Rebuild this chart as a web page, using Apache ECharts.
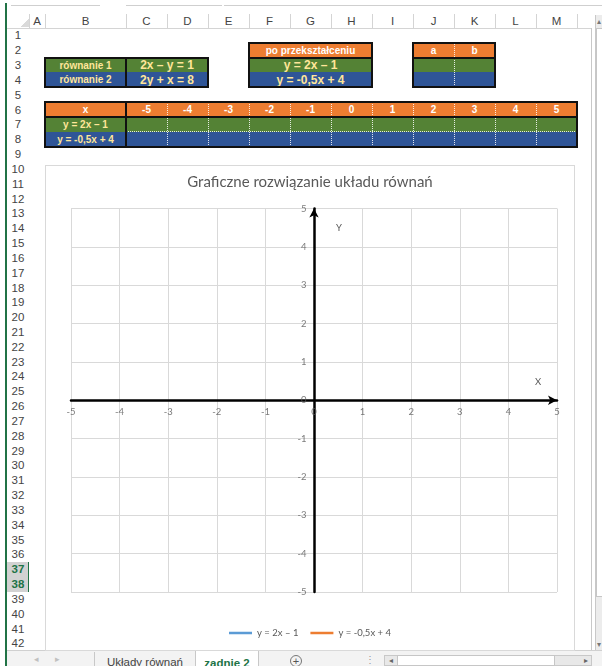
<!DOCTYPE html>
<html>
<head>
<meta charset="utf-8">
<script src="https://cdn.jsdelivr.net/npm/echarts@6/dist/echarts.min.js"></script>
<style>
  html, body { margin: 0; padding: 0; background: #fff; }
  #sheet { position: relative; width: 602px; height: 666px; overflow: hidden; background: #fff; font-family: "Liberation Sans", Arial, sans-serif; }
  #sheet div { box-sizing: border-box; }
  .c { position: absolute; display: flex; align-items: center; justify-content: center; white-space: nowrap; font-weight: bold; }
  .hdr { position: absolute; display: flex; align-items: center; justify-content: center; color: #444; font-size: 11.5px; font-family: "Liberation Sans", Arial, sans-serif; }
  #chart { position: absolute; left: 45px; top: 165px; width: 528px; height: 484px; border: 1px solid #d9d9d9; background: #fff; box-sizing: content-box !important; }
</style>
</head>
<body>
<div id="sheet"></div>
<script>
// ---- worksheet contents ----
const xValues = [-5, -4, -3, -2, -1, 0, 1, 2, 3, 4, 5];
// rows 7 and 8 of the table are still empty
const line1Values = [null, null, null, null, null, null, null, null, null, null, null];
const line2Values = [null, null, null, null, null, null, null, null, null, null, null];
const seriesNames = ['y = 2x – 1', 'y = -0,5x + 4'];
const equationLabels = ['równanie 1', 'równanie 2'];
const equations = ['2x – y = 1', '2y + x = 8'];
const transformedTitle = 'po przekształceniu';
const transformed = ['y = 2x – 1', 'y = -0,5x + 4'];
const coefHeaders = ['a', 'b'];
const axisRange = [-5, 5];
const xTicks = [-5, -4, -3, -2, -1, 0, 1, 2, 3, 4, 5];
const yTicks = [-5, -4, -3, -2, -1, 0, 1, 2, 3, 4, 5];
const chartTitle = 'Graficzne rozwiązanie układu równań';
const sheetTabs = ['Układy równań', 'zadnie 2'];

const ORANGE = '#ED7D31', GREEN = '#548235', BLUE = '#2F5597', PALE = '#FFE699';

// ---- grid geometry of the worksheet ----
const colNames = ['A','B','C','D','E','F','G','H','I','J','K','L','M'];
const colEdge = [29, 45, 126, 167, 208, 249, 290, 331, 372, 413, 454, 495, 536, 577];
const ROW_TOP = 28, ROW_H = 14.83;
const rowY = n => ROW_TOP + (n - 1) * ROW_H;
const cx = name => colEdge[colNames.indexOf(name)];
const cx2 = name => colEdge[colNames.indexOf(name) + 1];

const sheet = document.getElementById('sheet');
function rect(x, y, w, h, css) {
  const d = document.createElement('div');
  d.style.cssText = `position:absolute;left:${x}px;top:${y}px;width:${w}px;height:${h}px;${css || ''}`;
  sheet.appendChild(d);
  return d;
}
function cell(c0, c1, r0, r1, bg, text, color, size) {
  const x0 = cx(c0), x1 = cx2(c1), y0 = rowY(r0), y1 = rowY(r1 + 1);
  const d = rect(x0, y0, x1 - x0, y1 - y0, `background:${bg};color:${color || '#fff'};font-size:${size || 10}px;`);
  d.className = 'c';
  if (text !== undefined && text !== null) d.textContent = text;
  return d;
}
function hline(x0, x1, y, css) { return rect(x0, y - 1, x1 - x0, 2, css || 'background:#111;'); }
function vline(x, y0, y1, css) { return rect(x - 1, y0, 2, y1 - y0, css || 'background:#111;'); }
function frame(x0, x1, y0, y1) {
  rect(x0 - 1, y0 - 1, x1 - x0 + 2, y1 - y0 + 2, 'border:2px solid #111;');
}
function dotV(x, y0, y1) { rect(x - 0.5, y0, 1, y1 - y0, 'border-left:1px dotted rgba(255,255,255,0.85);'); }
function dotH(x0, x1, y) { rect(x0, y - 0.5, x1 - x0, 1, 'border-top:1px dotted rgba(255,255,255,0.85);'); }
function label(x, y, w, h, text, css) { const d = rect(x, y, w, h, css); d.className = 'hdr'; d.textContent = text; return d; }

// window chrome: formula-bar remnants and left accent
rect(11, 5, 89, 1, 'background:#cfcfcf;');
rect(126, 5, 96, 1, 'background:#cfcfcf;');
rect(224, 5, 378, 1, 'background:#cfcfcf;');
rect(5, 3, 1.5, 663, 'background:#217346;');

// column headers
rect(7, 28, 584, 1, 'background:#d4d4d4;');
rect(29, 14, 1, 14, 'background:#d4d4d4;');
rect(21, 19, 8, 8, 'background:linear-gradient(135deg, transparent 50%, #dadada 50%);');
colNames.forEach((n, i) => {
  label(colEdge[i], 14, colEdge[i + 1] - colEdge[i], 14, n);
  rect(colEdge[i + 1], 14, 1, 14, 'background:#d4d4d4;');
});
// row headers
for (let r = 1; r <= 42; r++) {
  const sel = (r === 37 || r === 38);
  const h = label(7, rowY(r), 22, ROW_H, r, sel ? 'background:#d2d2d2;' : '');
  if (sel) { h.style.color = '#217346'; h.style.fontWeight = 'bold'; }
}
rect(27.5, rowY(37), 1.5, ROW_H * 2, 'background:#217346;');
// right edge and vertical scroll bar
rect(591, 28, 1, 622, 'background:#c8c8c8;');
rect(595, 15, 7, 636, 'background:#ececec;border-left:1px solid #c8c8c8;');
rect(596, 28, 6, 569, 'background:#fff;border:1px solid #c6c6c6;border-right:none;');
label(596, 15, 6, 12, '▴', 'font-size:8px;color:#777;');
label(596, 639, 6, 11, '▾', 'font-size:8px;color:#777;');

// equations table B3:D4
cell('B', 'B', 3, 3, GREEN, equationLabels[0], PALE, 10);
cell('C', 'D', 3, 3, GREEN, equations[0], PALE, 12);
cell('B', 'B', 4, 4, BLUE, equationLabels[1], PALE, 10);
cell('C', 'D', 4, 4, BLUE, equations[1], PALE, 12);
vline(cx('C'), rowY(3), rowY(5));
frame(cx('B'), cx2('D'), rowY(3), rowY(5));

// transformed equations F2:H4
cell('F', 'H', 2, 2, ORANGE, transformedTitle, '#fff', 10);
cell('F', 'H', 3, 3, GREEN, transformed[0], PALE, 12);
cell('F', 'H', 4, 4, BLUE, transformed[1], PALE, 12);
frame(cx('F'), cx2('H'), rowY(2), rowY(3));
frame(cx('F'), cx2('H'), rowY(3), rowY(5));

// coefficients J2:K4
cell('J', 'J', 2, 2, ORANGE, coefHeaders[0], '#fff', 10);
cell('K', 'K', 2, 2, ORANGE, coefHeaders[1], '#fff', 10);
cell('J', 'J', 3, 3, GREEN, '', PALE);
cell('K', 'K', 3, 3, GREEN, '', PALE);
cell('J', 'J', 4, 4, BLUE, '', PALE);
cell('K', 'K', 4, 4, BLUE, '', PALE);
dotV(cx('K'), rowY(2), rowY(5));
hline(cx('J'), cx2('K'), rowY(3));
frame(cx('J'), cx2('K'), rowY(2), rowY(5));

// value table B6:M8
const valueCols = colNames.slice(2);
cell('B', 'B', 6, 6, ORANGE, 'x', '#fff', 10);
cell('B', 'B', 7, 7, GREEN, seriesNames[0], PALE, 10);
cell('B', 'B', 8, 8, BLUE, seriesNames[1], PALE, 10);
xValues.forEach((x, i) => {
  const c = valueCols[i];
  cell(c, c, 6, 6, ORANGE, x, '#fff', 10);
  cell(c, c, 7, 7, GREEN, line1Values[i] === null ? '' : line1Values[i], PALE, 10);
  cell(c, c, 8, 8, BLUE, line2Values[i] === null ? '' : line2Values[i], PALE, 10);
  if (i > 0) dotV(cx(c), rowY(6), rowY(9));
});
dotH(cx('C'), cx2('M'), rowY(8));
hline(cx('B'), cx2('M'), rowY(7));
vline(cx('C'), rowY(6), rowY(9));
frame(cx('B'), cx2('M'), rowY(6), rowY(9));

// sheet tab bar
rect(7, 650, 595, 16, 'background:#f3f3f3;border-top:1px solid #d0d0d0;');
label(30, 651, 12, 15, '◂', 'font-size:9px;color:#c0c0c0;');
label(51, 651, 12, 15, '▸', 'font-size:9px;color:#c0c0c0;');
rect(94, 652, 1, 14, 'background:#c8c8c8;');
label(95, 653, 100, 17, sheetTabs[0], 'font-size:11.5px;color:#444;');
rect(195, 651, 64, 15, 'background:#fff;border-left:1px solid #c8c8c8;border-right:1px solid #c8c8c8;');
label(195, 654, 64, 17, sheetTabs[1], 'font-size:11.5px;color:#217346;font-weight:bold;');
rect(290, 655, 12, 12, 'border:1px solid #777;border-radius:50%;');
label(290, 655, 12, 12, '+', 'font-size:11px;color:#555;');
label(366, 652, 8, 14, '⋮', 'font-size:10px;color:#999;');
rect(384, 655, 208, 11, 'background:#e8e8e8;border:1px solid #c8c8c8;');
rect(397, 655, 158, 11, 'background:#fff;border:1px solid #c6c6c6;');
label(384, 654, 13, 12, '◂', 'font-size:8px;color:#666;');
label(580, 654, 12, 12, '▸', 'font-size:8px;color:#666;');

// ---- embedded chart ----
const chartDiv = document.createElement('div');
chartDiv.id = 'chart';
sheet.appendChild(chartDiv);

const chart = echarts.init(chartDiv, null, { renderer: 'canvas' });
const FONT = 'Lato, "Open Sans", sans-serif';
const TICK_COLOR = '#595959';
const axisCommon = {
  type: 'value',
  min: axisRange[0],
  max: axisRange[1],
  interval: 1,
  axisLine: {
    onZero: true,
    symbol: ['none', 'arrow'],
    symbolSize: [7, 9],
    lineStyle: { color: '#000', width: 2.5 }
  },
  axisTick: { show: false },
  axisLabel: { show: false },
  splitLine: { show: true, lineStyle: { color: '#d9d9d9', width: 1 } }
};
const lineColors = ['#5B9BD5', '#ED7D31'];
// tick labels sit on the axes that cross at the origin
const tickLabelSeries = (points, pos, dist) => ({
  type: 'scatter',
  silent: true,
  symbolSize: 1,
  itemStyle: { color: 'rgba(0,0,0,0)' },
  data: points,
  label: {
    show: true,
    position: pos,
    distance: dist,
    color: TICK_COLOR,
    fontSize: 9.5,
    fontFamily: FONT,
    formatter: p => String(pos === 'bottom' ? p.value[0] : p.value[1])
  },
  z: 1
});
const option = {
  animation: false,
  backgroundColor: '#fff',
  title: {
    text: chartTitle,
    left: 'center',
    top: 9,
    padding: 0,
    textStyle: { fontFamily: FONT, fontSize: 15, fontWeight: 'normal', color: '#595959' }
  },
  grid: { left: 25, right: 17, top: 42.5, bottom: 58, containLabel: false },
  xAxis: Object.assign({}, axisCommon),
  yAxis: Object.assign({}, axisCommon),
  legend: {
    bottom: 7,
    left: 'center',
    icon: 'rect',
    itemWidth: 23,
    itemHeight: 2.5,
    itemGap: 12,
    textStyle: { color: '#595959', fontSize: 9.5, fontFamily: FONT },
    data: seriesNames
  },
  graphic: [
    { type: 'text', left: 290, top: 57, style: { text: 'Y', fill: '#595959', font: '9.5px ' + FONT } },
    { type: 'text', left: 489, top: 211, style: { text: 'X', fill: '#595959', font: '9.5px ' + FONT } }
  ],
  series: [
    {
      name: seriesNames[0], type: 'line', showSymbol: false,
      data: xValues.map((x, i) => [x, line1Values[i]]),
      lineStyle: { color: lineColors[0], width: 2.25 }, itemStyle: { color: lineColors[0] }
    },
    {
      name: seriesNames[1], type: 'line', showSymbol: false,
      data: xValues.map((x, i) => [x, line2Values[i]]),
      lineStyle: { color: lineColors[1], width: 2.25 }, itemStyle: { color: lineColors[1] }
    },
    tickLabelSeries(xTicks.map(v => [v, 0]), 'bottom', 6),
    tickLabelSeries(yTicks.map(v => [0, v]), 'left', 7)
  ]
};
chart.setOption(option);
</script>
</body>
</html>
